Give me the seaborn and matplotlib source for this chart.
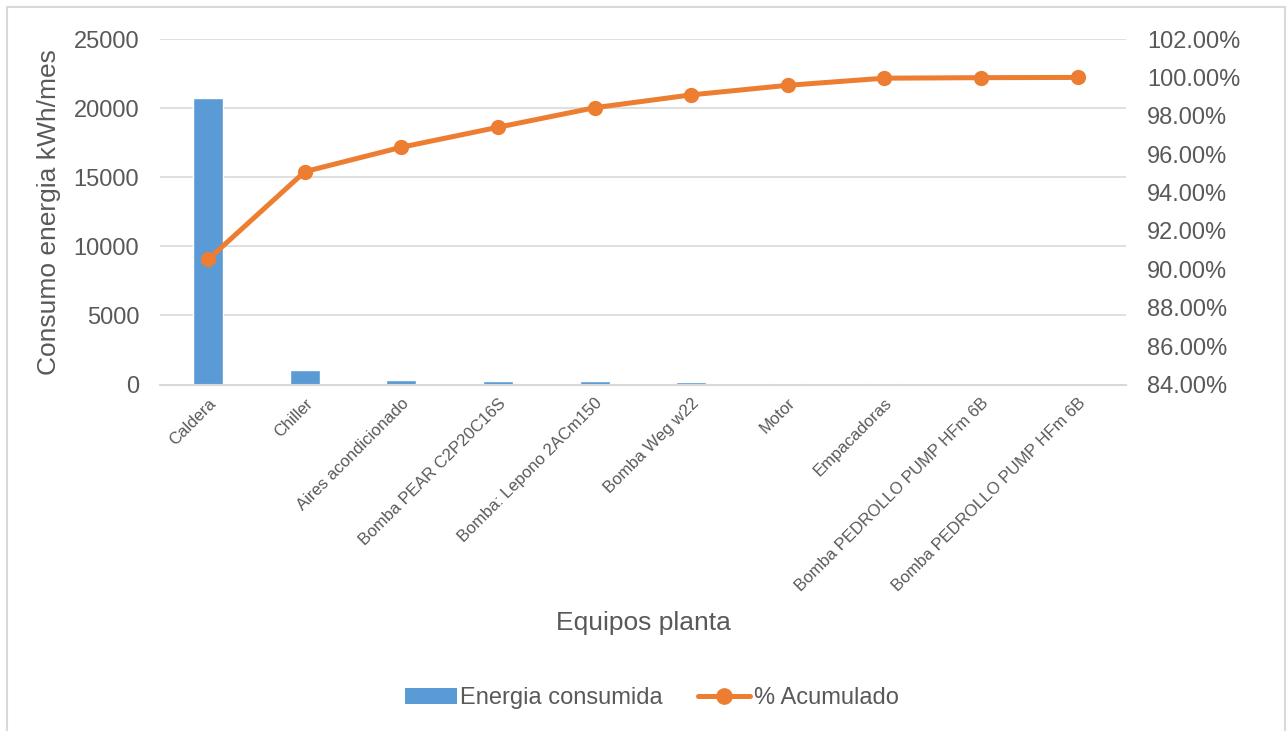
import numpy as np
import pandas as pd
import matplotlib
matplotlib.use("Agg")
import matplotlib.pyplot as plt
from matplotlib.ticker import FuncFormatter
from matplotlib.lines import Line2D
from matplotlib.patches import Patch, Rectangle
import seaborn as sns

# Plant equipment and monthly energy consumption (kWh/mes)
equipos = [
    "Caldera", "Chiller", "Aires acondicionado", "Bomba PEAR C2P20C16S",
    "Bomba: Lepono 2ACm150", "Bomba Weg w22", "Motor", "Empacadoras",
    "Bomba PEDROLLO PUMP HFm 6B", "Bomba PEDROLLO PUMP HFm 6B ",
]
energia = [20710, 1046, 291, 238, 233, 153, 114, 85, 6, 3]

left_ticks = [0, 5000, 10000, 15000, 20000, 25000]
right_ticks = [84, 86, 88, 90, 92, 94, 96, 98, 100, 102]

BAR_COLOR = "#5B9BD5"
LINE_COLOR = "#ED7D31"
TEXT_COLOR = "#595959"
GRID_COLOR = "#D9D9D9"

df = pd.DataFrame({"equipo": equipos, "energia": energia})
df["acumulado"] = np.cumsum(df["energia"]) / df["energia"].sum() * 100

sns.set_theme(style="white")
plt.rcParams["font.family"] = ["Liberation Sans", "DejaVu Sans"]

fig = plt.figure(figsize=(12.88, 7.31), dpi=100)
ax = fig.add_axes([0.1242, 0.474, 0.750, 0.4726])

sns.barplot(data=df, x="equipo", y="energia", color=BAR_COLOR,
            width=0.31, saturation=1, ax=ax, zorder=2)

ax.set_ylim(0, 25000)
ax.set_yticks(left_ticks)
ax.set_xlim(-0.5, len(equipos) - 0.5)
ax.yaxis.grid(True, color=GRID_COLOR, linewidth=1.2, zorder=0)
ax.set_axisbelow(True)
for side in ["top", "right", "left"]:
    ax.spines[side].set_visible(False)
ax.spines["bottom"].set_color(GRID_COLOR)
ax.spines["bottom"].set_linewidth(1.5)
ax.tick_params(axis="both", length=0)
ax.tick_params(axis="y", labelsize=17, labelcolor=TEXT_COLOR, pad=15)
ax.set_xticks(range(len(equipos)))
ax.set_xticklabels([e.strip() for e in equipos], rotation=45, ha="right",
                   va="top", rotation_mode="anchor", fontsize=12,
                   color=TEXT_COLOR)
ax.tick_params(axis="x", pad=8)
ax.set_xlabel("Equipos planta", fontsize=19, color=TEXT_COLOR, labelpad=12)
ax.set_ylabel("Consumo energia kWh/mes", fontsize=19, color=TEXT_COLOR,
              labelpad=9)

# Cumulative percentage on the secondary axis
ax2 = ax.twinx()
sns.lineplot(x=np.arange(len(equipos)), y=df["acumulado"].values, ax=ax2,
             color=LINE_COLOR, linewidth=3.6, marker="o", markersize=11,
             markeredgewidth=0, zorder=3)
ax2.set_ylim(84, 102)
ax2.set_yticks(right_ticks)
ax2.yaxis.set_major_formatter(FuncFormatter(lambda v, p: f"{v:.2f}%"))
ax2.tick_params(axis="y", length=0, labelsize=17, labelcolor=TEXT_COLOR, pad=15)
for side in ["top", "right", "left", "bottom"]:
    ax2.spines[side].set_visible(False)
ax2.set_xlim(-0.5, len(equipos) - 0.5)

handles = [
    Patch(facecolor=BAR_COLOR, edgecolor="none", label="Energia consumida"),
    Line2D([0], [0], color=LINE_COLOR, linewidth=3.6, marker="o",
           markersize=11, label="% Acumulado"),
]
fig.legend(handles=handles, loc="center", bbox_to_anchor=(0.506, 0.045),
           ncol=2, frameon=False, fontsize=17, labelcolor=TEXT_COLOR,
           handlelength=2.2, handletextpad=0.15, columnspacing=1.5)

# Chart border
fig.patches.append(Rectangle((7 / 1288, -0.01), 1278 / 1288, 1 - 7 / 731 + 0.01,
                             transform=fig.transFigure, fill=False,
                             edgecolor=GRID_COLOR, linewidth=1.5))

fig.savefig("out.png", dpi=100)
